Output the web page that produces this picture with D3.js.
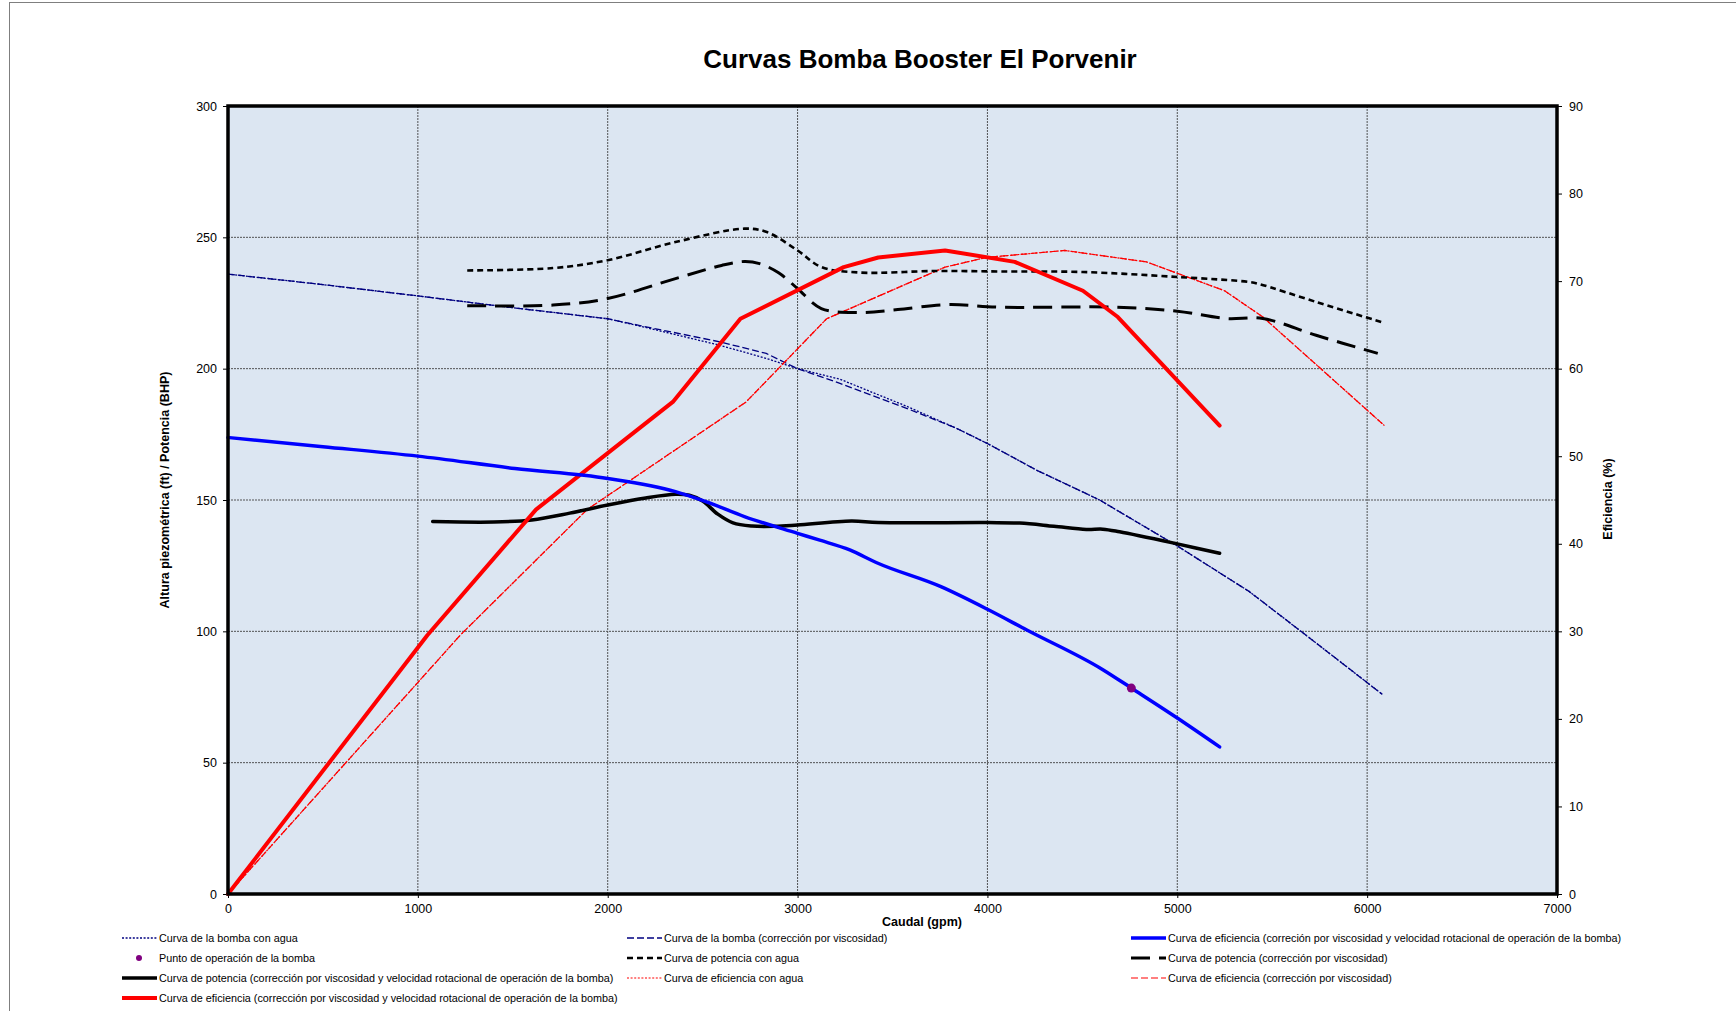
<!DOCTYPE html>
<html>
<head>
<meta charset="utf-8">
<script src="https://cdn.jsdelivr.net/npm/d3@7/dist/d3.min.js"></script>
<style>
  html, body { margin: 0; padding: 0; background: #fff; }
  svg { display: block; font-family: "Liberation Sans", Arial, sans-serif; }
</style>
</head>
<body>
<svg id="chart" width="1736" height="1011"></svg>
<script>
// Pump head curves (ft) vs flow (gpm)
const pumpWaterQ = [0, 500, 1000, 1500, 2000, 2170, 2591, 2835, 3000, 3223, 3574, 3837, 4000, 4258, 4591, 5000, 5380, 5700, 6080];
const pumpWaterH = [236, 232, 227.7, 223.2, 219, 216.2, 208.9, 203.9, 200, 196, 185.7, 177.3, 171.5, 161.4, 150, 132.5, 115.1, 97.3, 76];
const pumpViscQ  = [0, 500, 1000, 1500, 2000, 2170, 2591, 2835, 3000, 3223, 3574, 3837, 4000, 4258, 4591, 5000, 5380, 5700, 6080];
const pumpViscH  = [236, 232, 227.7, 223.2, 219, 216.4, 210.2, 205.8, 200, 194.4, 184.9, 177.3, 171.5, 161.4, 150, 132.5, 115.1, 97.3, 76];

// Head curve at operating speed (ft)
const pumpSpeedQ = [0, 500, 1000, 1511, 2000, 2357, 2517, 2720, 3000, 3117, 3275, 3414, 3755, 4000, 4205, 4608, 4758, 5000, 5223];
const pumpSpeedH = [173.8, 170.3, 166.7, 162, 158.2, 153.2, 149.4, 143.7, 137.3, 134.7, 131, 126.2, 117, 108.4, 100.6, 85.4, 78.4, 67, 56];

// Operating point
const opQ = [4758];
const opH = [78.4];

// Power curves (BHP)
const powerWaterQ = [1260, 1712, 2000, 2357, 2720, 2838, 3000, 3125, 3326, 3730, 4066, 4502, 5000, 5380, 5433, 5731, 6091];
const powerWaterP = [237.4, 238.3, 241.3, 248.2, 253.3, 252, 245, 238.7, 236.6, 237.2, 237, 236.8, 234.9, 233, 232.2, 225.4, 217.4];
const powerViscQ  = [1260, 1712, 2000, 2357, 2600, 2720, 2800, 2900, 3000, 3125, 3326, 3528, 3790, 4066, 4677, 5000, 5258, 5450, 5731, 6056];
const powerViscP  = [224, 224.2, 226.7, 234.3, 239.3, 240.8, 240, 236.5, 230.5, 222.9, 221.4, 222.5, 224.4, 223.4, 223.4, 221.9, 219.1, 219.1, 212.7, 205.8];
const powerSpeedQ = [1078, 1400, 1600, 1800, 2000, 2200, 2357, 2430, 2500, 2580, 2660, 2760, 2880, 3000, 3284, 3425, 4000, 4170, 4350, 4521, 4608, 4696, 5000, 5223];
const powerSpeedP = [141.8, 141.6, 142.4, 145, 148.1, 150.8, 152.2, 151.8, 149.6, 144.6, 141.3, 140.1, 140, 140.5, 142, 141.4, 141.4, 141.2, 140, 138.8, 138.9, 137.9, 133.3, 129.7];

// Efficiency curves (%)
const effWaterQ = [0, 1225, 1891, 2729, 3153, 3777, 3994, 4407, 4837, 5249, 5451, 6091];
const effWaterE = [0, 29.6, 43.9, 56.2, 65.7, 71.6, 72.7, 73.5, 72.2, 68.9, 65.9, 53.5];
const effViscQ  = [0, 1225, 1891, 2729, 3153, 3777, 3994, 4407, 4837, 5249, 5451, 6091];
const effViscE  = [0, 29.6, 43.9, 56.2, 65.7, 71.6, 72.7, 73.5, 72.2, 68.9, 65.9, 53.5];
const effSpeedQ = [0, 1050, 1622, 2343, 2699, 3243, 3425, 3777, 4144, 4503, 4687, 5223];
const effSpeedE = [0, 29.55, 43.9, 56.2, 65.7, 71.6, 72.7, 73.5, 72.2, 68.9, 65.9, 53.5];

// Axis ticks
const xTicks = [0, 1000, 2000, 3000, 4000, 5000, 6000, 7000];
const yTicks = [0, 50, 100, 150, 200, 250, 300];
const yRightTicks = [0, 10, 20, 30, 40, 50, 60, 70, 80, 90];

const svg = d3.select("#chart");
const plot = { left: 228, right: 1557, top: 106, bottom: 894 };

const x = d3.scaleLinear().domain([0, 7000]).range([plot.left, plot.right]);
const y = d3.scaleLinear().domain([0, 300]).range([plot.bottom, plot.top]);
const yR = d3.scaleLinear().domain([0, 90]).range([plot.bottom, plot.top]);

// outer chart border
svg.append("rect").attr("x", 9.5).attr("y", 2.5).attr("width", 1800).attr("height", 1100)
  .attr("fill", "none").attr("stroke", "#7f7f7f").attr("stroke-width", 1);

// title
svg.append("text").attr("x", 920).attr("y", 68).attr("text-anchor", "middle")
  .attr("font-size", 26).attr("font-weight", "bold").text("Curvas Bomba Booster El Porvenir");

// plot background
svg.append("rect").attr("x", plot.left).attr("y", plot.top)
  .attr("width", plot.right - plot.left).attr("height", plot.bottom - plot.top)
  .attr("fill", "#dce6f2");

// gridlines
const grid = svg.append("g").attr("stroke", "#3a3a3a").attr("stroke-width", 1).attr("stroke-dasharray", "2 1").attr("opacity", 0.85);
xTicks.filter(d => d > 0 && d < 7000).forEach(d => {
  grid.append("line").attr("x1", x(d)).attr("x2", x(d)).attr("y1", plot.top).attr("y2", plot.bottom);
});
yTicks.filter(d => d > 0 && d < 300).forEach(d => {
  grid.append("line").attr("x1", plot.left).attr("x2", plot.right).attr("y1", y(d)).attr("y2", y(d));
});

// axes
function styleAxis(g) {
  g.select(".domain").remove();
  g.selectAll(".tick line").attr("stroke", "#000").attr("stroke-width", 1);
  g.selectAll(".tick text").attr("font-size", 12.5).attr("fill", "#000")
    .attr("font-family", "'Liberation Sans', Arial, sans-serif");
}
svg.append("g").attr("transform", `translate(${plot.left},0)`)
  .call(d3.axisLeft(y).tickValues(yTicks).tickSize(5).tickPadding(6).tickFormat(d3.format("d")))
  .call(styleAxis);
svg.append("g").attr("transform", `translate(${plot.right},0)`)
  .call(d3.axisRight(yR).tickValues(yRightTicks).tickSize(5).tickPadding(7).tickFormat(d3.format("d")))
  .call(styleAxis);
svg.append("g").attr("transform", `translate(0,${plot.bottom})`)
  .call(d3.axisBottom(x).tickValues(xTicks).tickSize(4).tickPadding(6).tickFormat(d3.format("d")))
  .call(styleAxis);

// axis titles
svg.append("text").attr("x", 922).attr("y", 926).attr("text-anchor", "middle")
  .attr("font-size", 12.5).attr("font-weight", "bold").text("Caudal (gpm)");
svg.append("text").attr("transform", "translate(169,490) rotate(-90)").attr("text-anchor", "middle")
  .attr("font-size", 12.5).attr("font-weight", "bold").text("Altura piezométrica (ft) / Potencia (BHP)");
svg.append("text").attr("transform", "translate(1612,499) rotate(-90)").attr("text-anchor", "middle")
  .attr("font-size", 12.5).attr("font-weight", "bold").text("Eficiencia (%)");

// series definitions
const zip = (qs, vs) => qs.map((q, i) => [q, vs[i]]);
const series = [
  { name: "Curva de la bomba con agua", data: zip(pumpWaterQ, pumpWaterH), axis: y, color: "#000080", width: 1.3, dash: "2 1.6", curve: d3.curveLinear },
  { name: "Curva de la bomba (corrección por viscosidad)", data: zip(pumpViscQ, pumpViscH), axis: y, color: "#000080", width: 1.3, dash: "7 3", curve: d3.curveLinear },
  { name: "Curva de eficiencia (correción por viscosidad y velocidad rotacional de operación de la bomba)", data: zip(pumpSpeedQ, pumpSpeedH), axis: y, color: "#0000ff", width: 3.5, dash: null, curve: d3.curveMonotoneX },
  { name: "Punto de operación de la bomba", data: zip(opQ, opH), axis: y, color: "#800080", marker: true },
  { name: "Curva de potencia con agua", data: zip(powerWaterQ, powerWaterP), axis: y, color: "#000", width: 2.6, dash: "6 4", curve: d3.curveCatmullRom },
  { name: "Curva de potencia (corrección por viscosidad)", data: zip(powerViscQ, powerViscP), axis: y, color: "#000", width: 3, dash: "19 9", curve: d3.curveCatmullRom },
  { name: "Curva de potencia (corrección por viscosidad y velocidad rotacional de operación de la bomba)", data: zip(powerSpeedQ, powerSpeedP), axis: y, color: "#000", width: 3.5, dash: null, curve: d3.curveCatmullRom },
  { name: "Curva de eficiencia con agua", data: zip(effWaterQ, effWaterE), axis: yR, color: "#ff0000", width: 1.2, dash: "2 1.6", curve: d3.curveLinear },
  { name: "Curva de eficiencia (corrección por viscosidad)", data: zip(effViscQ, effViscE), axis: yR, color: "#ff0000", width: 1.2, dash: "7 3", curve: d3.curveLinear },
  { name: "Curva de eficiencia (corrección por viscosidad y velocidad rotacional de operación de la bomba)", data: zip(effSpeedQ, effSpeedE), axis: yR, color: "#ff0000", width: 4, dash: null, curve: d3.curveLinear }
];

// draw lines (thin first so thick ones sit on top, marker last)
const drawOrder = [0, 1, 7, 8, 4, 5, 6, 9, 2, 3];
const layer = svg.append("g");
drawOrder.forEach(i => {
  const s = series[i];
  if (s.marker) {
    layer.selectAll(null).data(s.data).enter().append("circle")
      .attr("cx", d => x(d[0])).attr("cy", d => s.axis(d[1])).attr("r", 4.5).attr("fill", s.color);
    return;
  }
  const line = d3.line().x(d => x(d[0])).y(d => s.axis(d[1])).curve(s.curve);
  layer.append("path").attr("d", line(s.data)).attr("fill", "none")
    .attr("stroke", s.color).attr("stroke-width", s.width)
    .attr("stroke-dasharray", s.dash).attr("stroke-linejoin", "round")
    .attr("stroke-linecap", s.dash ? "butt" : "round");
});

// plot frame
svg.append("rect").attr("x", plot.left).attr("y", plot.top)
  .attr("width", plot.right - plot.left).attr("height", plot.bottom - plot.top)
  .attr("fill", "none").attr("stroke", "#000").attr("stroke-width", 3.5);

// legend: three columns, filled row by row
const legendCols = [122, 627, 1131];
const legendRows = [938, 958, 978, 998];
const legend = svg.append("g").attr("font-size", 10.8);
series.forEach((s, i) => {
  const cx = legendCols[i % 3], cy = legendRows[Math.floor(i / 3)];
  if (s.marker) {
    legend.append("circle").attr("cx", cx + 17).attr("cy", cy).attr("r", 3).attr("fill", s.color);
  } else {
    legend.append("line").attr("x1", cx).attr("x2", cx + 35).attr("y1", cy).attr("y2", cy)
      .attr("stroke", s.color).attr("stroke-width", s.width)
      .attr("stroke-dasharray", s.dash);
  }
  legend.append("text").attr("x", cx + 37).attr("y", cy + 3.8).text(s.name);
});
</script>
</body>
</html>
